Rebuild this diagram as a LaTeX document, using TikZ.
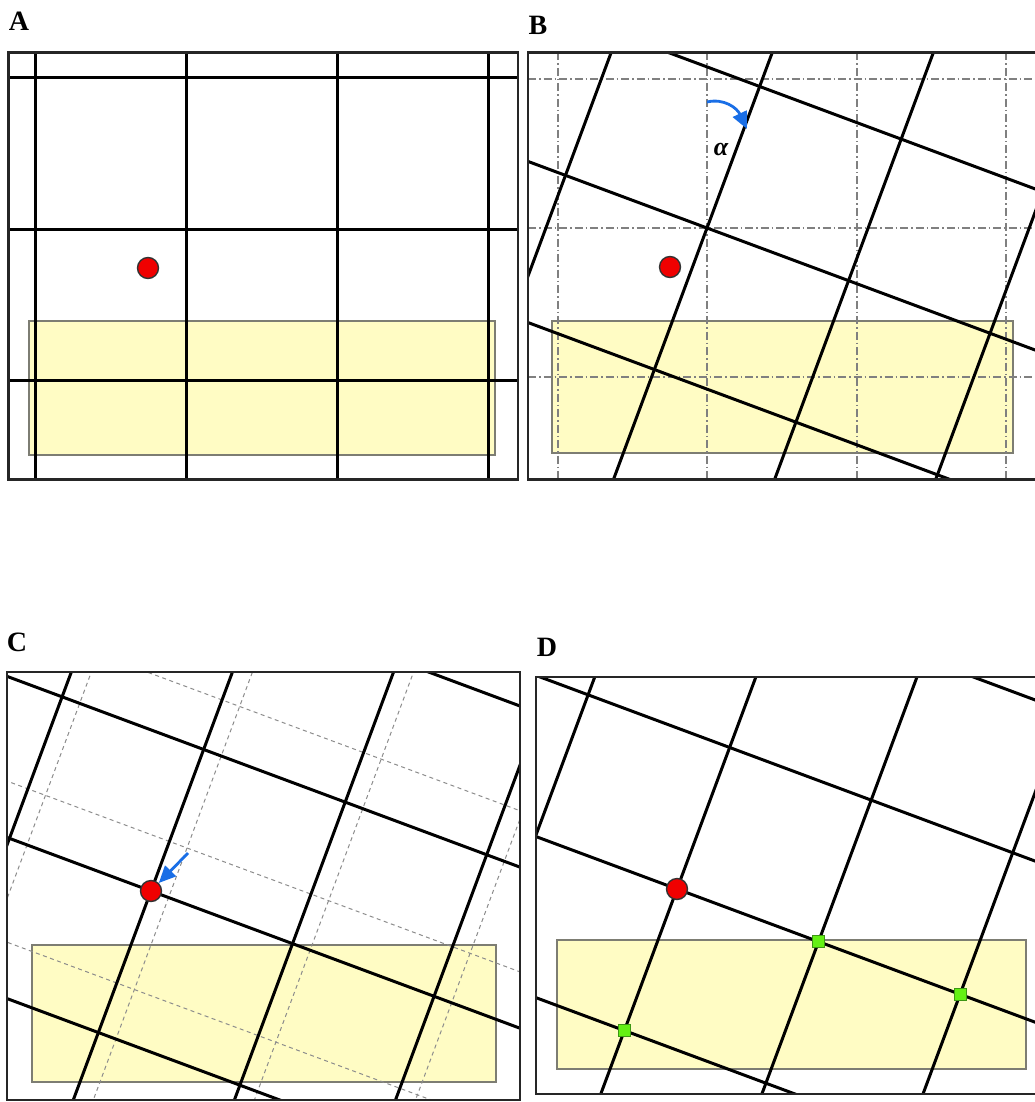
\documentclass[tikz,border=0pt]{standalone}
\usepackage{fontspec}
\setmainfont{Liberation Serif}
\usetikzlibrary{arrows.meta}
\definecolor{hlyellow}{RGB}{255,252,196}
\definecolor{rectedge}{RGB}{125,125,115}
\definecolor{dotred}{RGB}{240,0,0}
\definecolor{arrowblue}{RGB}{25,110,230}
\definecolor{sqgreen}{RGB}{100,240,20}
\definecolor{sqedge}{RGB}{60,150,20}
\def\ca{0.9373}
\def\sa{0.3486}
\def\gs{151}
\def\gL{900}
\newcommand\myrotgrid[3]{%
  \foreach \k in {-5,...,5}{%
    \draw[#3] ({#1+\k*\gs*(-\sa)-\gL*\ca},{#2+\k*\gs*\ca-\gL*\sa}) -- ({#1+\k*\gs*(-\sa)+\gL*\ca},{#2+\k*\gs*\ca+\gL*\sa});
    \draw[#3] ({#1+\k*\gs*\ca+\gL*\sa},{#2+\k*\gs*\sa-\gL*\ca}) -- ({#1+\k*\gs*\ca-\gL*\sa},{#2+\k*\gs*\sa+\gL*\ca});
  }}
\begin{document}
\begin{tikzpicture}[x=1pt,y=-1pt,
  gridline/.style={black,line width=3pt},
  framebox/.style={draw=black!85,line width=2.2pt},
  zone/.style={fill=hlyellow,draw=rectedge,line width=1.6pt},
  dashdotline/.style={black!50,line width=1.1pt,dash pattern=on 8pt off 3pt on 1.5pt off 3pt},
  dashline/.style={black!45,line width=1pt,dash pattern=on 4pt off 3.5pt},
  reddot/.style={circle,fill=dotred,draw=black!80,line width=1.4pt,minimum size=21pt,inner sep=0pt},
  greensq/.style={rectangle,fill=sqgreen,draw=sqedge,line width=0.8pt,minimum size=12pt,inner sep=0pt},
  panellabel/.style={font=\fontsize{28}{30}\selectfont\bfseries,inner sep=0pt},
  bluearrow/.style={arrowblue,line width=2.8pt,-{Triangle[length=17pt,width=15pt]}}]
\useasboundingbox (0,0) rectangle (1035,1102);

% labels
\node[panellabel] (labA) at (19,21) {A};
\node[panellabel] (labB) at (538,25) {B};
\node[panellabel] (labC) at (17,642) {C};
\node[panellabel] (labD) at (547,647) {D};

% ---------- Panel A ----------
\draw[zone] (29,321) rectangle (495,455);
\begin{scope}
  \clip (8.5,52.5) rectangle (518,479.5);
  \foreach \xx in {35,186,337,488}{\draw[gridline] (\xx,40) -- (\xx,490);}
  \foreach \yy in {78,229,380}{\draw[gridline] (0,\yy) -- (530,\yy);}
\end{scope}
\draw[framebox] (8.5,52.5) rectangle (518,479.5);
\node[reddot] (dotA) at (148,268) {};

% ---------- Panel B ----------
\draw[zone] (552,321) rectangle (1013,453);
\begin{scope}
  \clip (528,52.5) rectangle (1040,479.5);
  \foreach \xx in {558,707,857,1006}{\draw[dashdotline] (\xx,52.5) -- (\xx,479.5);}
  \foreach \yy in {79,228,377}{\draw[dashdotline] (528,\yy) -- (1040,\yy);}
  \myrotgrid{707}{228}{gridline}
\end{scope}
\draw[framebox] (1045,52.5) -- (528,52.5) -- (528,479.5) -- (1045,479.5);
\node[reddot] (dotB) at (670,267) {};
\coordinate (arcS) at (707,102);
\coordinate (arcE) at (747,129);
\draw[bluearrow] (arcS) .. controls (724,98) and (737,108) .. (arcE);
\node[font=\fontsize{26}{28}\selectfont\bfseries\itshape,inner sep=0pt] (alpha) at (721,150) {α};

% ---------- Panel C ----------
\draw[zone] (32,945) rectangle (496,1082);
\begin{scope}
  \clip (7,672) rectangle (520,1100);
  \myrotgrid{187}{848}{dashline}
  \myrotgrid{151}{891}{gridline}
\end{scope}
\draw[framebox] (7,672) rectangle (520,1100);
\node[reddot] (dotC) at (151,891) {};
\coordinate (oldC) at (188,853);
\draw[bluearrow] (oldC) -- (dotC);

% ---------- Panel D ----------
\draw[zone] (557,940) rectangle (1026,1069);
\begin{scope}
  \clip (536,677) rectangle (1045,1094);
  \myrotgrid{677}{889}{gridline}
\end{scope}
\draw[framebox] (1045,677) -- (536,677) -- (536,1094) -- (1045,1094);
\node[reddot] (dotD) at (677,889) {};
\node[greensq] (sq1) at ({677-\gs*\sa},{889+\gs*\ca}) {};
\node[greensq] (sq2) at ({677+\gs*\ca},{889+\gs*\sa}) {};
\node[greensq] (sq3) at ({677+2*\gs*\ca},{889+2*\gs*\sa}) {};
\end{tikzpicture}
\end{document}
